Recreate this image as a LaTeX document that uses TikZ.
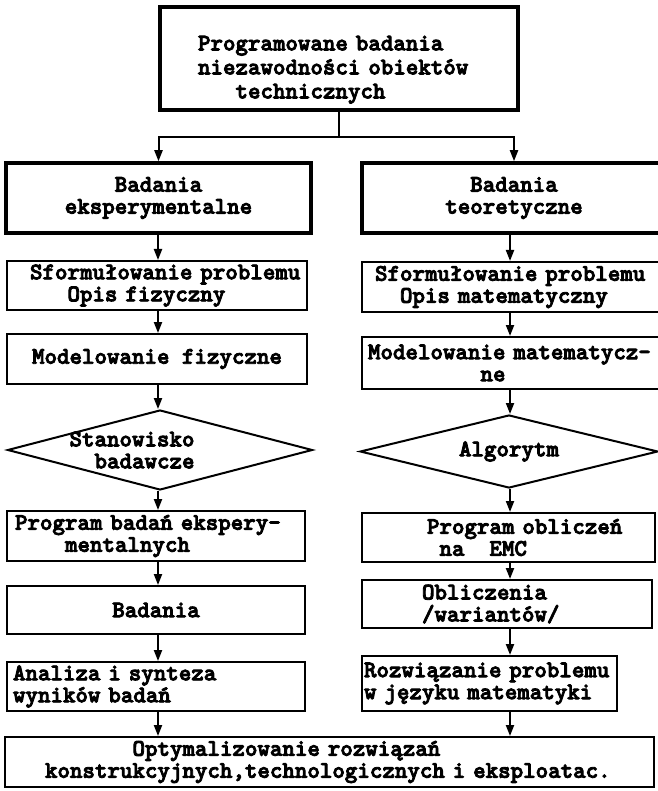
\documentclass[tikz,border=0pt]{standalone}
\usepackage{fontspec}
\newfontfamily\typefont{lmmonolt10-bold.otf}[FakeBold=3.5]
\usetikzlibrary{shapes.geometric,arrows.meta}

% typewriter text
\newcommand{\typed}[1][22]{\fontsize{23.8}{#1}\typefont}
% indent by a number of typewriter characters
\newdimen\chw \chw=12.5pt
\newcommand{\indt}[1]{\hspace*{#1\chw}}
\tikzset{
  block/.style={draw, rectangle, line width=2pt, inner xsep=2pt, inner ysep=0pt, font=\typed, align=left},
  mainblock/.style={block, line width=4pt},
  decision/.style={draw, diamond, aspect=4, line width=2pt, inner sep=0pt, font=\typed},
  arr/.style={line width=2pt, -{Triangle[length=11pt,width=8pt]}},
}

\begin{document}
\begin{tikzpicture}[x=1pt,y=-1pt]
\useasboundingbox (0,0) rectangle (657,791);
% Top box
\node[mainblock, line width=4.5pt, minimum width=358pt, minimum height=103pt, text width=282pt, font={\typed[24]}] (prog) at (339,58.5)
  {\rule{0pt}{37pt}Programowane badania\\niezawodności obiektów\\\indt{3}technicznych};
% Two branches
\node[mainblock, line width=3.5pt, minimum width=305pt, minimum height=70pt, align=center] (eksp) at (158.5,198) {Badania\\eksperymentalne};
\node[mainblock, line width=3.5pt, minimum width=304pt, minimum height=70pt, align=center] (teor) at (514,198) {Badania\\teoretyczne};
% Left column
\node[block, minimum width=300pt, minimum height=49pt, text width=254pt] (opisfiz) at (157,285.5) {\mbox{Sformułowanie problemu}\\\indt{3}Opis fizyczny};
\node[block, minimum width=300pt, minimum height=50pt, align=center] (modfiz) at (157,359) {Modelowanie fizyczne};
\node[decision, minimum width=305pt, minimum height=80pt] (stan) at (160,450) {};
\node[font=\typed, align=left, anchor=west] (stantxt) at (66,450) {Stanowisko\\\indt{2}badawcze};
\node[block, minimum width=298pt, minimum height=50pt, text width=282pt] (progbad) at (156,536) {Program badań ekspery-\\\indt{4}mentalnych};
\node[block, minimum width=298pt, minimum height=48pt, align=center] (badania) at (156,610) {Badania};
\node[block, minimum width=298pt, minimum height=49pt, text width=286pt] (analiza) at (156,686.5) {Analiza i synteza\\wyników badań};
% Right column
\node[block, minimum width=308pt, minimum height=50pt, text width=282pt] (opismat) at (516,287) {Sformułowanie problemu\\\indt{2}Opis matematyczny};
\node[block, minimum width=308pt, minimum height=52pt, text width=296pt] (modmat) at (516,363) {\mbox{Modelowanie matematycz-}\\\indt{9}ne};
\node[decision, minimum width=298pt, minimum height=73pt] (algo) at (509,451.5) {Algorytm};
\node[block, minimum width=293pt, minimum height=49pt, text width=163pt] (progobl) at (508.5,537.5) {\mbox{Program obliczeń}\\\indt{1}na\indt{2}EMC};
\node[block, minimum width=290pt, minimum height=48pt, text width=170pt] (oblicz) at (507,604) {Obliczenia\\/wariantów/};
\node[block, minimum width=255pt, minimum height=55pt, text width=251pt, inner xsep=0pt] (rozw) at (489.5,683.5) {\mbox{Rozwiązanie problemu}\\\mbox{w języku matematyki}};
% Common result
\node[block, minimum width=649pt, minimum height=50pt, text width=569pt] (optym) at (329.5,762)
  {\indt{7}Optymalizowanie rozwiązań\\\mbox{konstrukcyjnych,technologicznych i eksploatac.}};

% Connectors
\coordinate (split) at (339,137);
\coordinate (colL) at (158,0);
\coordinate (colR) at (510,0);
\draw[line width=2pt] (prog.south) -- (split);
\draw[arr] (split) -| (eksp.north);
\draw[arr] (split) -| (teor.north);
\foreach \a/\b in {eksp/opisfiz, opisfiz/modfiz, modfiz/stan, stan/progbad, progbad/badania, badania/analiza, analiza/optym}
  \draw[arr] (\a.south -| colL) -- (\b.north -| colL);
\foreach \a/\b in {teor/opismat, opismat/modmat, modmat/algo, algo/progobl, progobl/oblicz, oblicz/rozw, rozw/optym}
  \draw[arr] (\a.south -| colR) -- (\b.north -| colR);
\end{tikzpicture}
\end{document}
